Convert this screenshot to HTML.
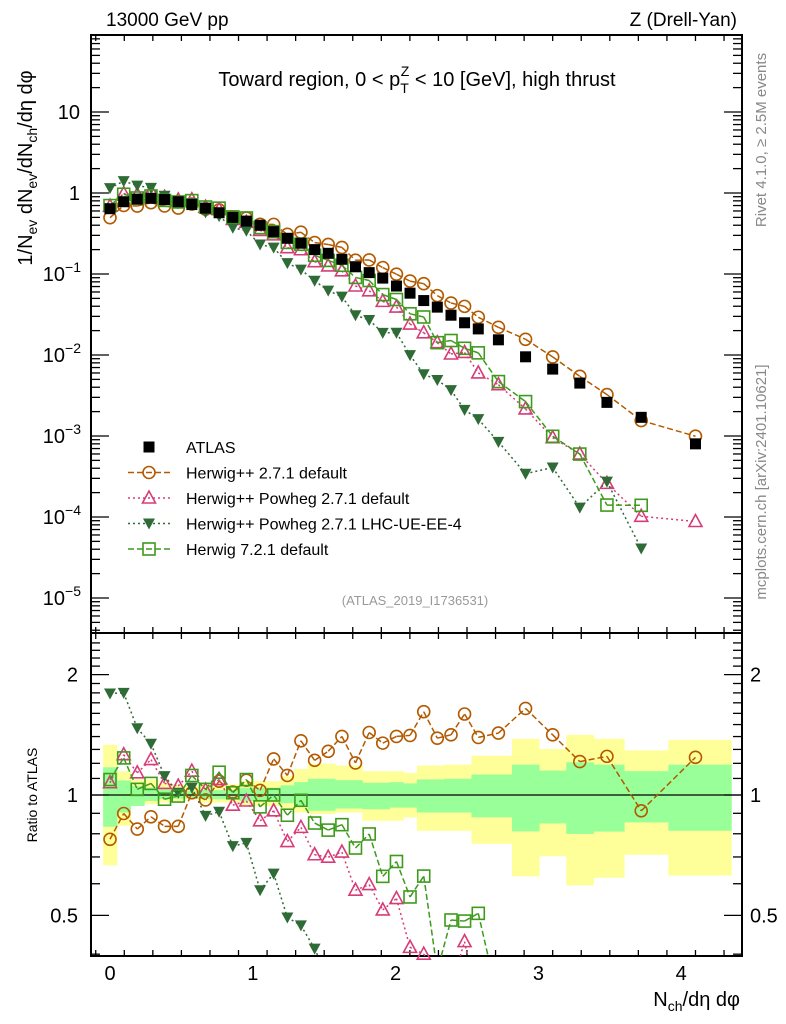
<!DOCTYPE html>
<html><head><meta charset="utf-8"><style>
html,body{margin:0;padding:0;width:786px;height:1024px;overflow:hidden;background:#fff}
svg{display:block;font-family:"Liberation Sans",Arial,sans-serif}
</style></head><body>
<svg id="chart" width="786" height="1024" viewBox="0 0 786 1024" xmlns="http://www.w3.org/2000/svg">
<g id="bands"></g>
<g id="grid"></g>
<g id="series"></g>
<text x="106" y="26" font-size="19">13000 GeV pp</text>
<text x="737" y="26" font-size="19" text-anchor="end">Z (Drell-Yan)</text>
<text x="417" y="86" font-size="20" text-anchor="middle">Toward region, 0 &lt; p<tspan font-size="14" dy="7">T</tspan><tspan font-size="14" dx="-8" dy="-17">Z</tspan><tspan dy="10"> &lt; 10 [GeV], high thrust</tspan></text>
<text x="415" y="605" font-size="13" fill="#999" text-anchor="middle">(ATLAS_2019_I1736531)</text>
<text transform="translate(766,140) rotate(-90)" font-size="15" fill="#888" text-anchor="middle">Rivet 4.1.0, ≥ 2.5M events</text>
<text transform="translate(766,482) rotate(-90)" font-size="15" fill="#888" text-anchor="middle">mcplots.cern.ch [arXiv:2401.10621]</text>
<text transform="translate(32,168) rotate(-90)" font-size="20" text-anchor="middle">1/N<tspan font-size="14" dy="5">ev</tspan><tspan dy="-5"> dN</tspan><tspan font-size="14" dy="5">ev</tspan><tspan dy="-5">/dN</tspan><tspan font-size="14" dy="5">ch</tspan><tspan dy="-5">/dη dφ</tspan></text>
<text transform="translate(37,795) rotate(-90)" font-size="14" text-anchor="middle">Ratio to ATLAS</text>
<text x="740" y="1006" font-size="20" text-anchor="end">N<tspan font-size="14" dy="5">ch</tspan><tspan dy="-5">/dη dφ</tspan></text>
<g id="legend"></g>
</svg>
<script>
const xs=[0,0.096,0.191,0.287,0.382,0.478,0.573,0.669,0.764,0.860,0.955,1.051,1.146,1.242,1.337,1.433,1.528,1.624,1.719,1.815,1.910,2.006,2.101,2.197,2.292,2.388,2.483,2.579,2.72,2.91,3.10,3.29,3.48,3.72,4.10];
const atlas=[0.64,0.78,0.84,0.86,0.83,0.78,0.72,0.65,0.57,0.5,0.45,0.40,0.333,0.276,0.24,0.20,0.18,0.152,0.123,0.104,0.089,0.071,0.058,0.047,0.039,0.031,0.025,0.021,0.0154,0.0095,0.0067,0.0045,0.0026,0.0017,0.0008];
const ratioHppDefault=[0.775,0.899,0.822,0.882,0.835,0.835,1.013,0.972,1.083,1.017,1.089,1.027,1.231,1.119,1.366,1.221,1.286,1.401,1.203,1.433,1.348,1.401,1.409,1.615,1.387,1.414,1.594,1.393,1.428,1.646,1.414,1.212,1.249,0.913,1.242];
const ratioPowhegDefault=[1.073,1.261,1.136,1.226,1.069,1.053,1.147,1.029,1.093,0.943,0.966,0.862,0.913,0.765,0.830,0.709,0.699,0.720,0.578,0.597,0.516,0.551,0.416,0.400,0.364,0.332,0.430,0.286,0.279,0.227,0.142,0.133,0.10,0.06,0.11];
const ratioPowhegUE=[1.794,1.80,1.469,1.343,1.115,1.013,1.043,0.887,0.908,0.745,0.759,0.578,0.636,0.494,0.472,0.413,0.346,0.346,0.252,0.26,0.211,0.265,0.172,0.123,0.126,0.119,0.084,0.077,0.055,0.036,0.061,0.029,0.105,0.024,null];
const ratioH7=[1.093,1.238,1.033,1.069,0.976,0.994,1.119,1.033,1.140,1.013,1.093,0.934,1.0,0.890,0.970,0.851,0.817,0.843,0.737,0.799,0.626,0.682,0.556,0.627,0.364,0.487,0.484,0.506,0.305,0.28,0.148,0.133,0.054,0.082,null];
const yellowHi=[1.335,1.147,1.094,1.094,1.073,1.063,1.053,1.063,1.063,1.063,1.083,1.083,1.083,1.115,1.162,1.198,1.198,1.185,1.185,1.147,1.147,1.147,1.136,1.185,1.185,1.191,1.191,1.254,1.254,1.382,1.303,1.414,1.382,1.293,1.374];
const yellowLo=[0.667,0.838,0.939,0.948,0.957,0.966,0.976,0.957,0.957,0.957,0.939,0.939,0.939,0.921,0.904,0.896,0.896,0.904,0.904,0.862,0.862,0.862,0.879,0.814,0.814,0.814,0.814,0.755,0.755,0.626,0.703,0.594,0.621,0.709,0.629];
const greenHi=[1.173,1.087,1.053,1.043,1.033,1.029,1.023,1.029,1.029,1.029,1.043,1.043,1.043,1.057,1.077,1.098,1.098,1.089,1.089,1.073,1.073,1.077,1.069,1.094,1.094,1.098,1.098,1.125,1.125,1.191,1.151,1.207,1.191,1.147,1.191];
const greenLo=[0.833,0.904,0.939,0.966,0.976,0.979,0.985,0.976,0.976,0.976,0.966,0.966,0.966,0.954,0.939,0.913,0.913,0.925,0.925,0.921,0.921,0.930,0.930,0.904,0.904,0.904,0.904,0.879,0.879,0.811,0.849,0.799,0.810,0.854,0.814];
const mainTicks=[1e1,1e0,1e-1,1e-2,1e-3,1e-4,1e-5];
const mainTickExp=[null,null,"−1","−2","−3","−4","−5"];
const ratioTicks=[2,1,0.5];
const ratioTickLabels=["2","1","0.5"];
const xTicks=[0,1,2,3,4];

const NS="http://www.w3.org/2000/svg";
const L=91,R=742,MT=35,MB=633,RB=956;
const X=v=>110+v*142.8;
const YM=v=>193-Math.log10(v)*81;
const YR=v=>795-Math.log10(v)*400;
function mk(tag,attrs,parent){const e=document.createElementNS(NS,tag);for(const k in attrs)e.setAttribute(k,attrs[k]);parent.appendChild(e);return e;}
const grid=document.getElementById('grid'),ser=document.getElementById('series'),bands=document.getElementById('bands'),leg=document.getElementById('legend');

const edges=[];edges.push(xs[0]-0.048);for(let i=0;i<xs.length-1;i++)edges.push((xs[i]+xs[i+1])/2);edges.push(4.35);
function bandRect(i,hi,lo,col,name){
  const x0=Math.max(L,X(edges[i])),x1=Math.min(R,X(edges[i+1])+0.5);
  const y0=Math.max(MB,YR(hi)),y1=Math.min(RB,YR(lo));
  const r=mk('rect',{x:x0,y:y0,width:x1-x0,height:y1-y0,fill:col},bands);
  
  
}
for(let i=0;i<xs.length;i++)bandRect(i,yellowHi[i],yellowLo[i],'#ffff99','total-uncertainty-band');
for(let i=0;i<xs.length;i++)bandRect(i,greenHi[i],greenLo[i],'#99ff99','stat-uncertainty-band');
const ref=mk('line',{x1:L,x2:R,y1:YR(1),y2:YR(1),stroke:'#000','stroke-width':1.3},grid);



for(const [t,b] of [[MT,MB],[MB,RB]]){
  const f=mk('rect',{x:L,y:t,width:R-L,height:b-t,fill:'none',stroke:'#000','stroke-width':2},grid);
  
  
}
for(let v=-0.1;v<=4.41;v+=0.2){
  const major=Math.abs(v-Math.round(v))<0.01;const len=major?13:6;const xx=X(v);
  if(xx<L||xx>R)continue;
  for(const [y0,dir] of [[MT,1],[MB,-1],[MB,1],[RB,-1]]) mk('line',{x1:xx,x2:xx,y1:y0,y2:y0+dir*len,stroke:'#000','stroke-width':1.3},grid);
}
xTicks.forEach(v=>{const t=mk('text',{x:X(v),y:980,'font-size':20,'text-anchor':'middle'},grid);t.textContent=v;

});
for(let d=-6;d<=1;d++){for(let m=1;m<10;m++){const v=m*Math.pow(10,d);const yy=YM(v);if(yy<MT||yy>MB)continue;const len=m==1?18:9;
 mk('line',{x1:L,x2:L+len,y1:yy,y2:yy,stroke:'#000','stroke-width':1.3},grid);mk('line',{x1:R,x2:R-len,y1:yy,y2:yy,stroke:'#000','stroke-width':1.3},grid);}}
mainTicks.forEach((v,i)=>{let t;
 if(mainTickExp[i]===null){t=mk('text',{x:80,y:YM(v)+7,'font-size':20,'text-anchor':'end'},grid);t.textContent=v>=10?'10':'1';}
 else{t=mk('text',{x:81,y:YM(v)+7,'font-size':20,'text-anchor':'end'},grid);t.innerHTML='10<tspan font-size="14" dy="-9">'+mainTickExp[i]+'</tspan>';}
 
 });
for(let v=0.4;v<=2.5;v+=0.1){const yy=YR(v);if(yy<MB||yy>RB)continue;const major=[0.5,1,2].some(q=>Math.abs(q-v)<0.01);const len=major?18:9;
 mk('line',{x1:L,x2:L+len,y1:yy,y2:yy,stroke:'#000','stroke-width':1.3},grid);mk('line',{x1:R,x2:R-len,y1:yy,y2:yy,stroke:'#000','stroke-width':1.3},grid);}
ratioTicks.forEach((v,i)=>{
 const t=mk('text',{x:78,y:YR(v)+7,'font-size':20,'text-anchor':'end'},grid);t.textContent=ratioTickLabels[i];
 
 
 const t2=mk('text',{x:750,y:YR(v)+7,'font-size':20},grid);t2.textContent=ratioTickLabels[i];
 
 });

function marker(type,col,x,y,parent){
 if(type==='fsq')return mk('rect',{x:x-5.5,y:y-5.5,width:11,height:11,fill:'#000'},parent);
 if(type==='circ')return mk('circle',{cx:x,cy:y,r:6,fill:'none',stroke:col,'stroke-width':1.6},parent);
 if(type==='tri')return mk('polygon',{points:`${x},${y-7} ${x-6.5},${y+5} ${x+6.5},${y+5}`,fill:'none',stroke:col,'stroke-width':1.6},parent);
 if(type==='dtri')return mk('polygon',{points:`${x-6},${y-5} ${x+6},${y-5} ${x},${y+6}`,fill:col},parent);
 if(type==='osq')return mk('rect',{x:x-6,y:y-6,width:12,height:12,fill:'none',stroke:col,'stroke-width':1.6},parent);
}
// clip a segment to y range [ya,yb]
function clipSeg(p,q,ya,yb){
 let t0=0,t1=1;const dy=q[1]-p[1];
 if(dy===0){if(p[1]<ya||p[1]>yb)return null;}
 else{let ta=(ya-p[1])/dy,tb=(yb-p[1])/dy;if(ta>tb){const t=ta;ta=tb;tb=t;}t0=Math.max(t0,ta);t1=Math.min(t1,tb);if(t0>=t1)return null;}
 return [[p[0]+(q[0]-p[0])*t0,p[1]+dy*t0],[p[0]+(q[0]-p[0])*t1,p[1]+dy*t1]];
}
function drawSeries(pts,s,g,ya,yb,suffix){
 for(let i=0;i<pts.length-1;i++){const c=clipSeg(pts[i],pts[i+1],ya,yb);if(!c)continue;
  mk('line',{x1:c[0][0],y1:c[0][1],x2:c[1][0],y2:c[1][1],stroke:s.col,'stroke-width':1.5,'stroke-dasharray':s.dash},g);}
 pts.forEach(p=>{if(p[1]<ya||p[1]>yb)return;const e=marker(s.m,s.col,p[0],p[1],g);
  
  });
}
const seriesDefs=[
 {name:'herwigpp-default',ratio:ratioHppDefault,col:'#b35a00',dash:'6,3',m:'circ'},
 {name:'herwigpp-powheg-default',ratio:ratioPowhegDefault,col:'#d63c78',dash:'2,3',m:'tri'},
 {name:'herwigpp-powheg-lhc-ue-ee-4',ratio:ratioPowhegUE,col:'#2f6b36',dash:'2,3',m:'dtri'},
 {name:'herwig7-default',ratio:ratioH7,col:'#3e9a1c',dash:'6,3',m:'osq'}
];
seriesDefs.forEach(s=>{
 const gm=mk('g',{},ser);
 
 
 const gr=mk('g',{},ser);
 
 
 let pm=[],pr=[];
 xs.forEach((x,i)=>{const r=s.ratio[i];if(r==null)return;pm.push([X(x),YM(atlas[i]*r)]);pr.push([X(x),YR(r)]);});
 drawSeries(pm,s,gm,MT,MB,'-point');
 drawSeries(pr,s,gr,MB,RB,'-ratio-point');
});
const ga=mk('g',{},ser);


xs.forEach((x,i)=>{const e=marker('fsq','#000',X(x),YM(atlas[i]),ga);
 
 });

const legItems=[
 {label:'ATLAS',m:'fsq',col:'#000',dash:null},
 {label:'Herwig++ 2.7.1 default',m:'circ',col:'#b35a00',dash:'6,3'},
 {label:'Herwig++ Powheg 2.7.1 default',m:'tri',col:'#d63c78',dash:'2,3'},
 {label:'Herwig++ Powheg 2.7.1 LHC-UE-EE-4',m:'dtri',col:'#2f6b36',dash:'2,3'},
 {label:'Herwig 7.2.1 default',m:'osq',col:'#3e9a1c',dash:'6,3'}
];
legItems.forEach((it,i)=>{const y=447+i*25.5;
 const g=mk('g',{},leg);
 
 
 if(it.dash)mk('line',{x1:128,x2:170,y1:y,y2:y,stroke:it.col,'stroke-width':1.5,'stroke-dasharray':it.dash},g);
 marker(it.m,it.col,149,y,g);
 const t=mk('text',{x:186,y:y+6,'font-size':16},g);t.textContent=it.label;
});
</script>
</body></html>
